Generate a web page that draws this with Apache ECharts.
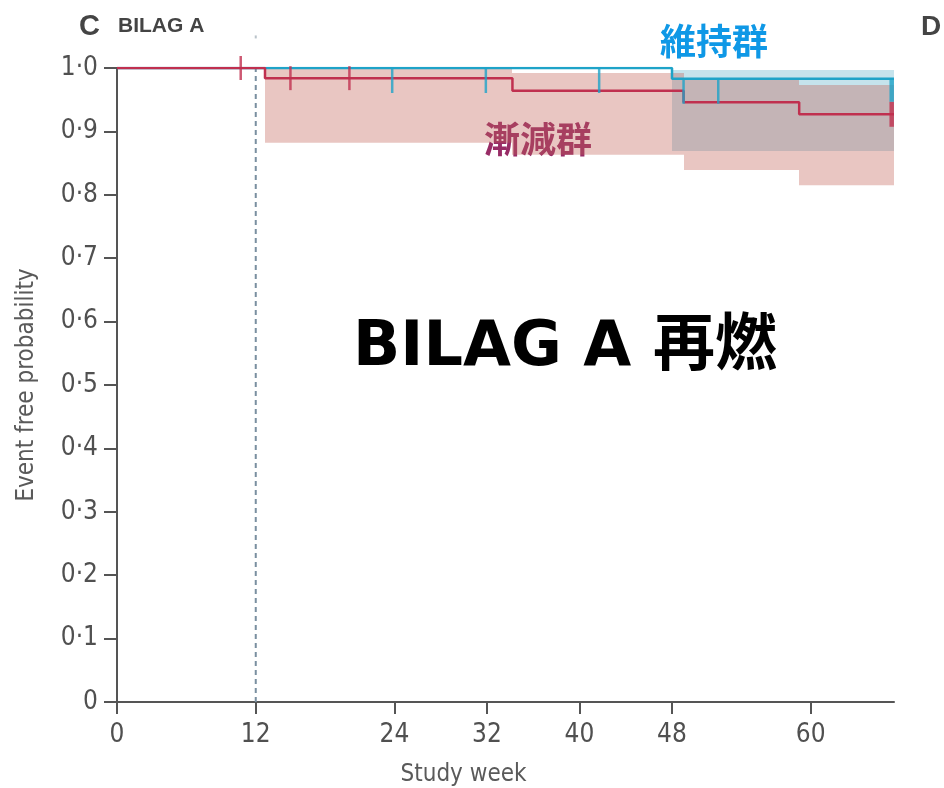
<!DOCTYPE html>
<html>
<head>
<meta charset="utf-8">
<script src="https://cdn.jsdelivr.net/npm/echarts@6/dist/echarts.min.js"></script>
<style>
  html, body { margin: 0; padding: 0; background: #ffffff; }
  #chart { width: 944px; height: 788px; }
</style>
</head>
<body>
<div id="chart"></div>
<script>
// Axis ticks
const xTicks = [0, 12, 24, 32, 40, 48, 60];
const xMax = 67.2;
const yTicks = [0, 0.1, 0.2, 0.3, 0.4, 0.5, 0.6, 0.7, 0.8, 0.9, 1.0];
const yTickLabels = ['0', '0·1', '0·2', '0·3', '0·4', '0·5', '0·6', '0·7', '0·8', '0·9', '1·0'];

// Tapering group (漸減群): Kaplan–Meier steps
const taperTimes = [0, 12.8, 34.2, 49.0, 59.0, 67.2];
const taperSurv  = [1.000, 0.984, 0.964, 0.946, 0.927, 0.927];
const taperCensor = [10.7, 15.0, 20.1];
const taperLastCensor = 67.0;
// Tapering group confidence band
const taperBandStart = [12.8, 34.2, 49.0, 59.0];
const taperBandEnd   = [34.2, 49.0, 59.0, 67.2];
const taperBandLower = [0.882, 0.863, 0.839, 0.815];
const taperBandUpper = [1.000, 0.992, 0.983, 0.973];

// Maintenance group (維持群): Kaplan–Meier steps
const maintTimes = [0, 48.0, 67.2];
const maintSurv  = [1.000, 0.983, 0.983];
const maintCensor = [23.8, 31.9, 41.7, 49.0, 52.0];
const maintLastCensor = 67.0;
// Maintenance group confidence band
const maintBandStart = [48.0];
const maintBandEnd   = [67.2];
const maintBandLower = [0.869];
const maintBandUpper = [0.997];

// Randomisation week marker
const markerWeek = 12;
const markerTop = 1.049;

const RED = '#c0304f';
const BLUE = '#1ea3c8';
const TICK_FONT = "'Liberation Sans Narrow', 'DejaVu Sans Condensed', 'Open Sans', sans-serif";
const CJK_FONT = "'Noto Sans CJK JP', 'Noto Sans CJK SC', sans-serif";

function pairs(xs, ys) { return xs.map((x, i) => [x, ys[i]]); }
function survAt(times, surv, t) {
  let s = surv[0];
  for (let i = 0; i < times.length; i++) { if (times[i] <= t) s = surv[i]; }
  return s;
}
function bandRows(s, e, lo, hi) { return s.map((v, i) => [v, e[i], lo[i], hi[i]]); }
function bandRenderer(fill) {
  return function (params, api) {
    const a = api.coord([api.value(0), api.value(3)]);
    const b = api.coord([api.value(1), api.value(2)]);
    const x0 = Math.round(a[0]), x1 = Math.round(b[0]);
    return {
      type: 'rect',
      shape: { x: x0, y: a[1], width: x1 - x0, height: b[1] - a[1] },
      style: { fill: fill }
    };
  };
}

const chart = echarts.init(document.getElementById('chart'), null, { renderer: 'canvas' });

const option = {
  animation: false,
  backgroundColor: '#ffffff',
  grid: { left: 117, right: 50, top: 68, bottom: 86, containLabel: false, outerBoundsMode: 'none' },
  xAxis: {
    type: 'value',
    min: 0,
    max: xMax,
    name: 'Study week',
    nameLocation: 'middle',
    nameGap: 61,
    nameTextStyle: { fontFamily: TICK_FONT, fontSize: 24, color: '#5a5a5a', padding: [0, 84, 0, 0] },
    splitLine: { show: false },
    axisLine: { show: true, onZero: false, lineStyle: { color: '#555555', width: 2 } },
    axisTick: { show: true, customValues: xTicks, length: 12, lineStyle: { color: '#555555', width: 2 } },
    axisLabel: {
      customValues: xTicks,
      margin: 20,
      fontFamily: TICK_FONT,
      fontSize: 26,
      color: '#505050'
    }
  },
  yAxis: {
    type: 'value',
    min: 0,
    max: 1,
    interval: 0.1,
    name: 'Event free probability',
    nameLocation: 'middle',
    nameGap: 78,
    nameTextStyle: { fontFamily: TICK_FONT, fontSize: 24, color: '#5a5a5a' },
    splitLine: { show: false },
    axisLine: { show: true, lineStyle: { color: '#555555', width: 2 } },
    axisTick: { show: true, length: 13, lineStyle: { color: '#555555', width: 2 } },
    axisLabel: {
      margin: 19,
      fontFamily: TICK_FONT,
      fontSize: 26,
      color: '#505050',
      formatter: function (v) { return yTickLabels[Math.round(v * 10)]; }
    }
  },
  graphic: [
    { type: 'text', left: 79, top: 12, style: { text: 'C', font: "bold 29px 'Liberation Sans', Arial, sans-serif", fill: '#444444' } },
    { type: 'text', left: 118, top: 16, style: { text: 'BILAG A', font: "bold 21px 'Liberation Sans', Arial, sans-serif", fill: '#444444' } },
    { type: 'text', left: 921, top: 13, style: { text: 'D', font: "bold 28px 'Liberation Sans', Arial, sans-serif", fill: '#444444' } },
    { type: 'text', x: 714, y: 41, style: { text: '維持群', font: "bold 36px " + CJK_FONT, fill: '#0f98e6', align: 'center', verticalAlign: 'middle' } },
    { type: 'text', x: 538, y: 139, style: { text: '漸減群', font: "bold 36px " + CJK_FONT, fill: '#982c66', align: 'center', verticalAlign: 'middle' } },
    { type: 'text', x: 565, y: 349, style: { text: 'BILAG A 再燃', font: "bold 62px 'DejaVu Sans', " + CJK_FONT, fill: '#000000', align: 'center', verticalAlign: 'middle' } }
  ],
  series: [
    {
      name: '維持群 CI',
      type: 'custom',
      z: 1,
      renderItem: bandRenderer('#c5e3ec'),
      encode: { x: [0, 1], y: [2, 3] },
      data: bandRows(maintBandStart, maintBandEnd, maintBandLower, maintBandUpper)
    },
    {
      name: '漸減群 CI',
      type: 'custom',
      z: 2,
      renderItem: bandRenderer('rgba(194,97,86,0.36)'),
      encode: { x: [0, 1], y: [2, 3] },
      data: bandRows(taperBandStart, taperBandEnd, taperBandLower, taperBandUpper)
    },
    {
      name: 'week marker',
      type: 'line',
      z: 3,
      symbol: 'none',
      silent: true,
      lineStyle: { color: '#7a8fa0', width: 2, type: [5, 4] },
      data: [[markerWeek, 0], [markerWeek, 1]]
    },
    {
      name: 'week marker top',
      type: 'scatter',
      z: 3,
      clip: false,
      silent: true,
      symbol: 'rect',
      symbolSize: [2, 3],
      itemStyle: { color: '#a9b4bd' },
      data: [[markerWeek, markerTop]]
    },
    {
      name: '維持群',
      type: 'line',
      z: 4,
      step: 'end',
      symbol: 'none',
      lineStyle: { color: BLUE, width: 2.5 },
      data: pairs(maintTimes, maintSurv)
    },
    {
      name: '漸減群',
      type: 'line',
      z: 5,
      step: 'end',
      symbol: 'none',
      lineStyle: { color: RED, width: 2.5 },
      data: pairs(taperTimes, taperSurv)
    },
    {
      name: '漸減群 censored',
      type: 'scatter',
      z: 6,
      symbol: 'rect',
      symbolSize: [2.5, 24],
      itemStyle: { color: RED },
      data: taperCensor.map(t => [t, survAt(taperTimes, taperSurv, t)])
    },
    {
      name: '漸減群 last',
      type: 'scatter',
      z: 6,
      symbol: 'rect',
      symbolSize: [4.5, 25],
      itemStyle: { color: RED },
      data: [[taperLastCensor, survAt(taperTimes, taperSurv, taperLastCensor)]]
    },
    {
      name: '維持群 censored',
      type: 'scatter',
      z: 7,
      symbol: 'rect',
      symbolSize: [2.5, 25],
      symbolOffset: [0, 12.5],
      itemStyle: { color: BLUE },
      data: maintCensor.map(t => [t, survAt(maintTimes, maintSurv, t)])
    },
    {
      name: '維持群 last',
      type: 'scatter',
      z: 7,
      symbol: 'rect',
      symbolSize: [4.5, 23],
      symbolOffset: [0, 11.5],
      itemStyle: { color: BLUE },
      data: [[maintLastCensor, survAt(maintTimes, maintSurv, maintLastCensor)]]
    }
  ]
};

chart.setOption(option);
</script>
</body>
</html>
